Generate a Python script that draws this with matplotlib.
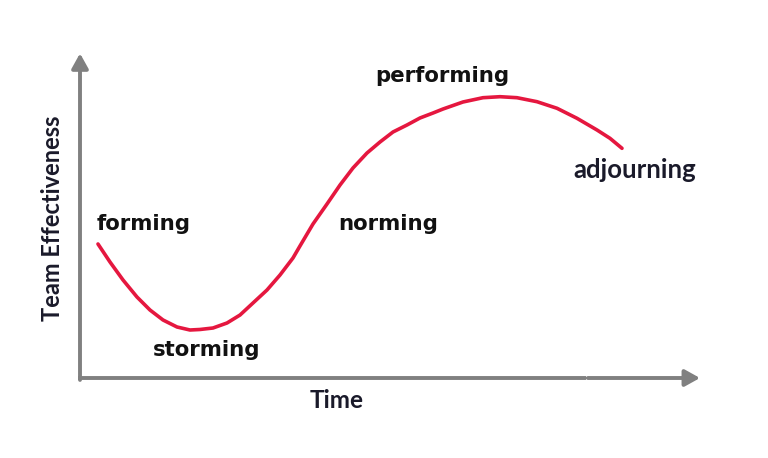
import matplotlib
matplotlib.use("Agg")
import matplotlib.pyplot as plt
from matplotlib.patches import FancyArrowPatch

# Curve (Time 0-100, Team Effectiveness 0-100)
time = [2.90, 4.84, 6.94, 9.19, 11.29, 13.39, 15.65, 17.74, 19.35, 21.45,
        23.71, 25.81, 27.90, 30.16, 32.26, 34.35, 35.48, 37.58, 39.84, 41.94,
        44.03, 46.29, 48.39, 50.48, 52.74, 54.84, 56.94, 58.55, 61.77, 65.00,
        67.74, 70.48, 73.71, 76.94, 80.16, 83.39, 85.48, 87.42]
effectiveness = [41.49, 35.91, 30.34, 25.08, 21.05, 17.96, 15.79, 14.86,
                 15.02, 15.48, 17.03, 19.50, 23.22, 27.24, 31.89, 37.15,
                 40.87, 47.68, 53.87, 59.75, 65.02, 69.66, 73.07, 76.16,
                 78.33, 80.50, 82.04, 83.28, 85.45, 86.78, 87.09, 86.78,
                 85.54, 83.50, 80.40, 76.78, 74.21, 71.11]

stage_labels = ["forming", "storming", "norming", "performing", "adjourning"]
stage_x = [2.7, 11.8, 41.6, 47.6, 79.5]
stage_y = [47.7, 8.7, 47.7, 93.5, 64.4]

x_label = "Time"
y_label = "Team Effectiveness"

fig = plt.figure(figsize=(7.68, 4.58), dpi=100)
ax = fig.add_axes([80/768, 80/458, 620/768, 323/458])
ax.set_xlim(0, 100)
ax.set_ylim(0, 100)
ax.axis("off")

axis_color = "#808080"
head = "-|>,head_length=0.9,head_width=0.5"
# y axis arrow
ya = FancyArrowPatch((0, -0.006), (0, 1.005), transform=ax.transAxes,
                     arrowstyle=head, mutation_scale=10, color=axis_color,
                     lw=2.8, shrinkA=0, shrinkB=0, clip_on=False)
ax.add_patch(ya)
# x axis: two segments with a small gap, second ending in an arrow
ax.plot([-0.003, 0.816], [0, 0], transform=ax.transAxes, color=axis_color,
        lw=2.8, solid_capstyle="butt", clip_on=False)
xa = FancyArrowPatch((0.819, 0), (1.0, 0), transform=ax.transAxes,
                     arrowstyle=head, mutation_scale=10, color=axis_color,
                     lw=2.8, shrinkA=0, shrinkB=0, clip_on=False)
ax.add_patch(xa)

ax.plot(time, effectiveness, color="#e5173f", lw=2.6,
        solid_joinstyle="round", solid_capstyle="round", clip_on=False)

for lab, tx, ty in zip(stage_labels, stage_x, stage_y):
    if lab == "adjourning":
        ax.text(tx, ty, lab, ha="left", va="center", fontsize=18.5,
                fontweight="bold", family="Lato", color="#1a1a2a",
                clip_on=False)
    else:
        ax.text(tx, ty, lab, ha="left", va="center", fontsize=15.3,
                fontweight="bold", family="DejaVu Sans", color="#111111",
                clip_on=False)

fig.text(337/768, 1 - 401/458, x_label, ha="center", va="center",
         fontsize=17.5, fontweight="bold", family="Lato", color="#1a1a2a")
fig.text(53/768, 1 - 218/458, y_label, ha="center", va="center",
         rotation=90, fontsize=17, fontweight="bold", family="Lato",
         color="#1a1a2a")

fig.savefig("out.png", dpi=100)
